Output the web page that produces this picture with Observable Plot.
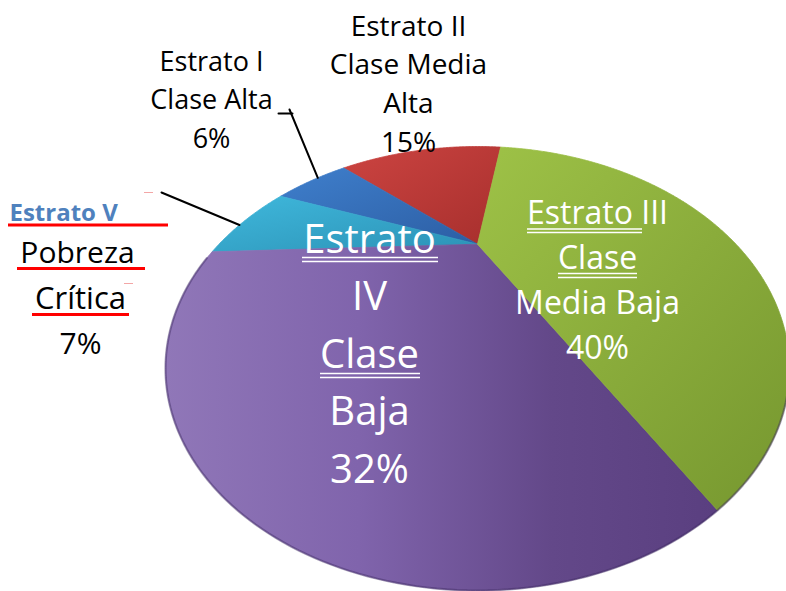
<!DOCTYPE html>
<html><head><meta charset="utf-8">
<script src="https://cdn.jsdelivr.net/npm/d3@7"></script>
<script src="https://cdn.jsdelivr.net/npm/@observablehq/plot@0.6"></script>
<style>html,body{margin:0;padding:0;background:#fff;overflow:hidden;} svg{display:block;}</style>
</head><body><div id="chart"></div>
<script>
// ---- data ----
const categories = ["Estrato II", "Estrato I", "Estrato V", "Estrato IV", "Estrato III"];
const classLines = [["Clase Media", "Alta"], ["Clase Alta"], ["Pobreza", "Crítica"], ["Clase", "Baja"], ["Clase", "Media Baja"]];
const values = [15, 6, 7, 32, 40];
const percentLabels = ["15%", "6%", "7%", "32%", "40%"];

// ---- pie geometry (perspective-tilted disc) ----
const W = 786, H = 591;
const cx = 477, cy = 368, rx = 312, ry = 222;
const tilt = 0.56;        // perspective shift of the centre toward the far edge
const startDeg = 82;      // angle of first slice edge
const total = d3.sum(values);
const k = Math.sqrt(1 - tilt * tilt);
function proj(deg, r = 1) {
  const t = deg * Math.PI / 180;
  const x = r * Math.cos(t), y = r * Math.sin(t);
  const den = 1 + tilt * y;
  return {x: cx + rx * x * k / den, y: cy - ry * (y + tilt) / den};
}
const apex = proj(0, 0);
let cum = 0;
const slices = values.map((v, i) => {
  const a0 = startDeg + cum / total * 360;
  cum += v;
  const a1 = startDeg + cum / total * 360;
  const pts = [{...apex}];
  for (let a = a0; a < a1; a += 0.5) pts.push(proj(a));
  pts.push(proj(a1));
  pts.push({...apex});
  return {i, a0, a1, mid: (a0 + a1) / 2, pts};
});
const gradIds = ["gRed", "gBlue", "gCyan", "gPurple", "gGreen"];

// ---- labels layout ----
const black = "#000", white = "#fff";
const rows = [];
const under = [];
// Estrato II (outside, top)
[categories[0], ...classLines[0], percentLabels[0]].forEach((t, j) =>
  rows.push({x: 408, y: 35 + j * 38.7, text: t, size: 28, fill: black}));
// Estrato I (outside, top-left)
[categories[1], ...classLines[1], percentLabels[1]].forEach((t, j) =>
  rows.push({x: 211, y: 70 + j * 38.5, text: t, size: 27, fill: black}));
// Estrato V (outside, left)
rows.push({x: 9, y: 220, text: categories[2], size: 24, fill: "#4f81bd", weight: "bold", anchor: "start"});
rows.push({x: 77, y: 262, text: classLines[2][0], size: 30, fill: black});
rows.push({x: 80, y: 308, text: classLines[2][1], size: 31, fill: black});
rows.push({x: 80, y: 353, text: percentLabels[2], size: 30, fill: black});
under.push({x1: 8, x2: 168, y: 224.5, stroke: "#ff0000", w: 3});
under.push({x1: 17, x2: 145, y: 268, stroke: "#ff0000", w: 3});
under.push({x1: 32, x2: 129, y: 314, stroke: "#ff0000", w: 3});
// Estrato IV (inside purple)
const iv = categories[3].split(" ");
[iv[0], iv[1], ...classLines[3], percentLabels[3]].forEach((t, j) =>
  rows.push({x: 369, y: 252 + j * 57.5, text: t, size: 40, fill: white}));
under.push({x1: 302, x2: 438, y: 257, stroke: white, w: 1.6});
under.push({x1: 302, x2: 438, y: 261, stroke: white, w: 1.6});
under.push({x1: 320, x2: 420, y: 373, stroke: white, w: 1.6});
under.push({x1: 320, x2: 420, y: 377, stroke: white, w: 1.6});
// Estrato III (inside green)
[categories[4], ...classLines[4], percentLabels[4]].forEach((t, j) =>
  rows.push({x: 597, y: 223 + j * 45, text: t, size: 32, fill: white}));
under.push({x1: 527, x2: 642, y: 228.5, stroke: white, w: 1.5});
under.push({x1: 527, x2: 642, y: 232, stroke: white, w: 1.5});
under.push({x1: 558, x2: 637, y: 273, stroke: white, w: 1.5});
under.push({x1: 558, x2: 637, y: 277, stroke: white, w: 1.5});
// tiny pink marks
under.push({x1: 144, x2: 153, y: 192, stroke: "#f3a6a6", w: 1});
under.push({x1: 124, x2: 133, y: 283, stroke: "#f3a6a6", w: 1});

// leader lines from labels to slice mids
const endI = proj(slices[1].mid - 2, 1.0);
const endV = proj(slices[2].mid + 2, 1.0);
const leaders = [
  [{x: 278, y: 113}, {x: 292, y: 113}],
  [{x: 289, y: 109}, endI],
  [{x: 161, y: 192}, endV]
];

// bottom rim shading
const rim = [];
for (let a = 185; a <= 330; a += 1) rim.push(proj(a));

const marks = [];
slices.forEach(s => {
  marks.push(Plot.line(s.pts, {x: "x", y: "y", fill: `url(#${gradIds[s.i]})`, stroke: `url(#${gradIds[s.i]})`, strokeWidth: 0.8, curve: "linear"}));
});
marks.push(Plot.line(rim, {x: "x", y: "y", stroke: "#3b2860", strokeOpacity: 0.45, strokeWidth: 2.2}));
leaders.forEach(l => marks.push(Plot.line(l, {x: "x", y: "y", stroke: "#000", strokeWidth: 2})));
under.forEach(u => marks.push(Plot.ruleY([u], {y: "y", x1: "x1", x2: "x2", stroke: u.stroke, strokeWidth: u.w})));
rows.forEach(r => marks.push(Plot.text([r], {
  x: "x", y: "y", text: "text", fontSize: r.size, fill: r.fill,
  fontWeight: r.weight || "normal", textAnchor: r.anchor || "middle",
  lineAnchor: "bottom", fontFamily: "Open Sans"
})));

const svg = Plot.plot({
  width: W, height: H,
  margin: 0,
  x: {domain: [0, W], range: [0, W], axis: null},
  y: {domain: [0, H], range: [0, H], axis: null},
  style: {background: "#fff", fontFamily: "Open Sans", overflow: "hidden"},
  marks
});

const defs = `
<linearGradient id="gRed" x1="0" y1="0" x2="1" y2="1">
  <stop offset="0" stop-color="#cc4441"/><stop offset="1" stop-color="#a72f2d"/></linearGradient>
<linearGradient id="gBlue" x1="0" y1="0" x2="1" y2="1">
  <stop offset="0" stop-color="#3f7fcc"/><stop offset="1" stop-color="#2c5ea4"/></linearGradient>
<linearGradient id="gCyan" x1="0" y1="0" x2="1" y2="1">
  <stop offset="0" stop-color="#3fb8dc"/><stop offset="1" stop-color="#2c92b6"/></linearGradient>
<linearGradient id="gPurple" x1="0" y1="0" x2="1" y2="0">
  <stop offset="0" stop-color="#9077b8"/><stop offset="0.35" stop-color="#8064ac"/>
  <stop offset="0.7" stop-color="#634889"/><stop offset="1" stop-color="#5a3f80"/></linearGradient>
<linearGradient id="gGreen" x1="0" y1="0" x2="1" y2="1">
  <stop offset="0" stop-color="#9ec247"/><stop offset="0.5" stop-color="#8aac3b"/><stop offset="1" stop-color="#76972f"/></linearGradient>`;
d3.select(svg).insert("defs", ":first-child").html(defs);
document.getElementById("chart").appendChild(svg);
</script>
</body></html>
